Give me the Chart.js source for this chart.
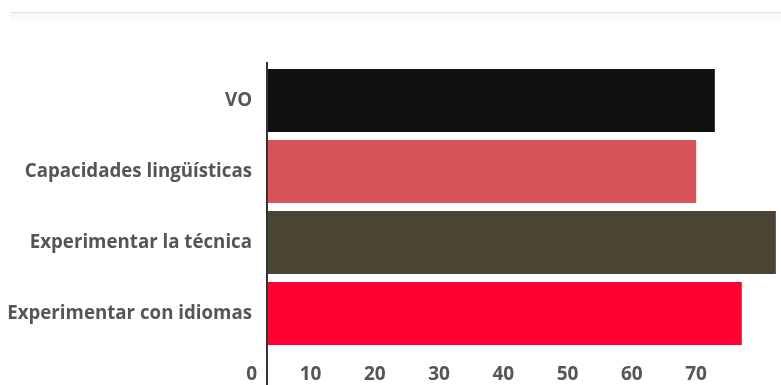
<!DOCTYPE html>
<html>
<head>
<meta charset="utf-8">
<script src="https://cdn.jsdelivr.net/npm/chart.js@4"></script>
<style>
  html, body { margin: 0; padding: 0; background: #fff; }
  #wrap { position: relative; width: 781px; height: 385px; }
  #topline {
    position: absolute; left: 10px; right: 0; top: 12px; height: 11px;
    border-top: 1px solid #dfdfdf;
    background: linear-gradient(#f6f6f6, #fff);
  }
  canvas { position: absolute; left: 0; top: 0; }
</style>
</head>
<body>
<div id="wrap">
  <div id="topline"></div>
  <canvas id="chart" width="781" height="385"></canvas>
</div>
<script>
/* chart data */
const categories = ['VO', 'Capacidades lingüísticas', 'Experimentar la técnica', 'Experimentar con idiomas'];
const values = [69.7, 66.8, 79.2, 73.9];
const barColors = ['#111111', '#d9535a', '#4a4434', '#ff0030'];
const xTicks = [0, 10, 20, 30, 40, 50, 60, 70];

/* axis line that runs past the plot area, drawn at value 0 */
const axisLine = {
    id: 'axisLine',
    afterDatasetsDraw(chart) {
        const ctx = chart.ctx;
        const x = chart.scales.x.getPixelForValue(0);
        ctx.save();
        ctx.strokeStyle = '#333';
        ctx.lineWidth = 2;
        ctx.beginPath();
        ctx.moveTo(x, chart.chartArea.top - 3);
        ctx.lineTo(x, chart.height);
        ctx.stroke();
        ctx.restore();
    }
};

const ctx = document.getElementById('chart');
new Chart(ctx, {
    type: 'bar',
    data: {
        labels: categories,
        datasets: [{
            data: values,
            backgroundColor: barColors,
            borderWidth: 0,
            categoryPercentage: 1,
            barPercentage: 0.887
        }]
    },
    options: {
        indexAxis: 'y',
        responsive: false,
        animation: false,
        layout: { padding: { top: 65, right: 0, left: 0, bottom: 0 } },
        plugins: { legend: { display: false }, tooltip: { enabled: false } },
        scales: {
            x: {
                min: 0,
                max: 80,
                grid: { display: false },
                border: { display: false },
                afterFit: s => { s.height = 36; s.paddingLeft = 0; s.paddingRight = 0; },
                ticks: {
                    stepSize: 10,
                    align: 'end',
                    padding: 6,
                    maxRotation: 0,
                    color: '#555',
                    font: { family: 'Open Sans', size: 19, weight: 'bold' },
                    callback: v => xTicks.includes(v) ? v + '  ' : ''
                }
            },
            y: {
                grid: { display: false, drawTicks: false },
                border: { display: false },
                afterFit: s => { s.width = 267; },
                ticks: {
                    padding: 15,
                    color: '#555',
                    font: { family: 'Open Sans', size: 18.7, weight: 'bold' }
                }
            }
        }
    },
    plugins: [axisLine]
});
</script>
</body>
</html>
